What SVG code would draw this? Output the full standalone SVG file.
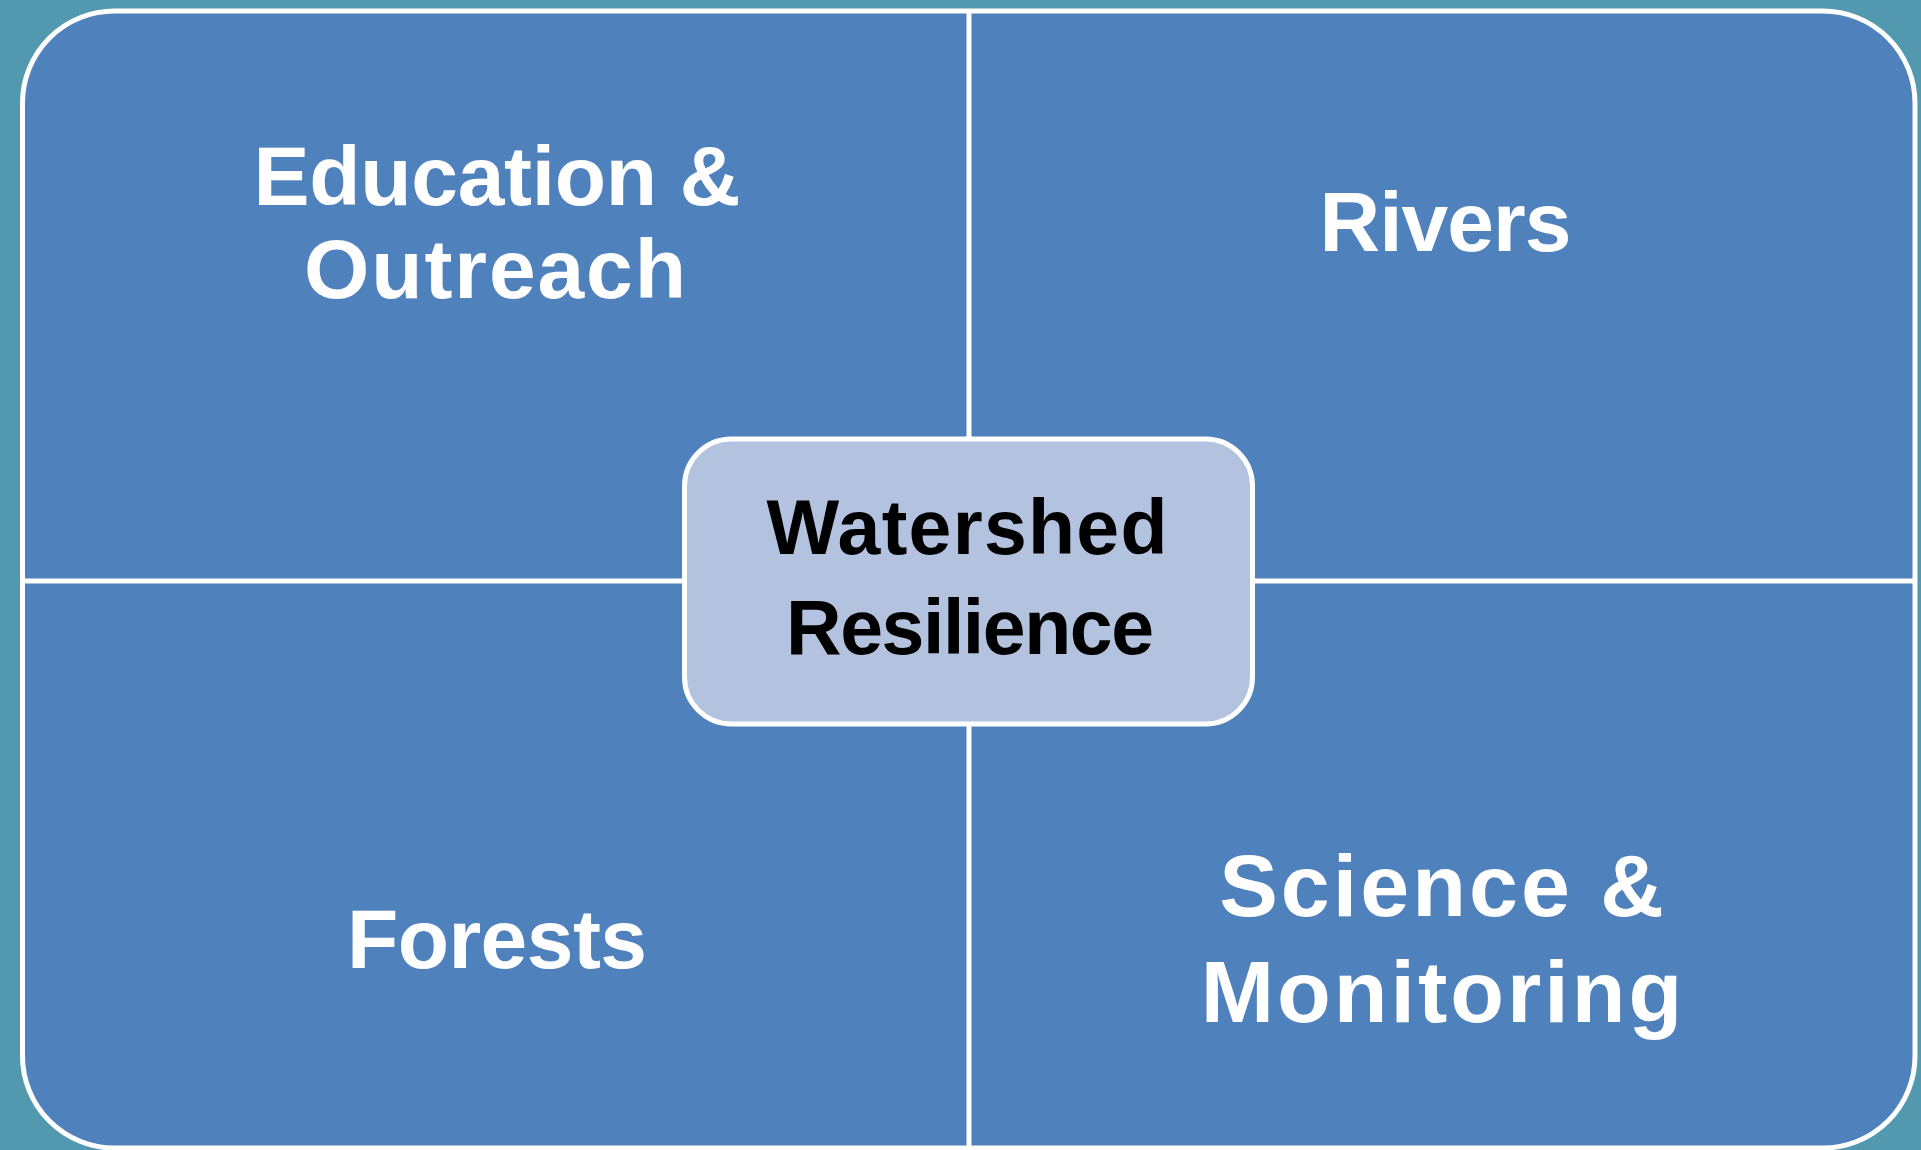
<svg xmlns="http://www.w3.org/2000/svg" width="1921" height="1150" viewBox="0 0 1921 1150">
<style>
.lbl{font-family:"Liberation Sans",Arial,sans-serif;font-weight:bold;font-size:84px;fill:#ffffff;text-anchor:middle}
.wide{font-size:88px;letter-spacing:3px}
.ctr{font-family:"Liberation Sans",Arial,sans-serif;font-weight:bold;font-size:77px;fill:#000000;text-anchor:middle}
.div{stroke:#ffffff;stroke-width:5;fill:none}
</style>
<rect x="0" y="0" width="1921" height="1150" fill="#5299B0"/>
<g id="frame">
<rect x="22.5" y="11" width="1892.5" height="1137" rx="92" ry="92" fill="#4F81BD" stroke="#ffffff" stroke-width="5"/>
</g>
<g id="connectors">
<line class="div" x1="969" y1="11" x2="969" y2="1150"/>
<line class="div" x1="22.5" y1="581" x2="1915" y2="581"/>
</g>
<g id="education">
<text class="lbl" x="497" y="205" textLength="487" lengthAdjust="spacing">Education &amp;</text>
<text class="lbl" x="495" y="298" textLength="382" lengthAdjust="spacing">Outreach</text>
</g>
<g id="rivers">
<text class="lbl" x="1445" y="251" style="letter-spacing:-1px">Rivers</text>
</g>
<g id="forests">
<text class="lbl" x="497" y="968" textLength="300" lengthAdjust="spacing">Forests</text>
</g>
<g id="science">
<text class="lbl wide" x="1443" y="916">Science &amp;</text>
<text class="lbl wide" x="1443" y="1022">Monitoring</text>
</g>
<g id="center">
<rect x="684.5" y="439" width="568" height="285" rx="47" ry="47" fill="#B3C2DE" stroke="#ffffff" stroke-width="5"/>
<text class="ctr" x="967" y="554" textLength="401" lengthAdjust="spacing">Watershed</text>
<text class="ctr" x="970" y="654" textLength="368" lengthAdjust="spacing">Resilience</text>
</g>
</svg>
